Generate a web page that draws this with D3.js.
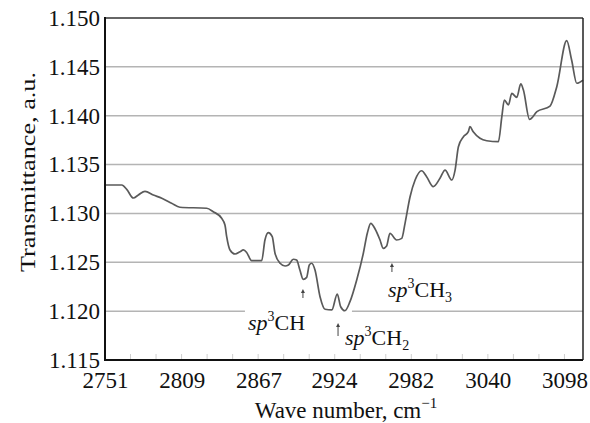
<!DOCTYPE html>
<html>
<head>
<meta charset="utf-8">
<script src="https://cdn.jsdelivr.net/npm/d3@7"></script>
<style>
  body { margin: 0; background: #fff; }
  text { font-family: "Liberation Serif", "Times New Roman", serif; fill: #111; }
</style>
</head>
<body>
<div id="chart"></div>
<script>
// spectrum
const WAVE_NUMBERS = [2751.0, 2763.7, 2767.4, 2772.4, 2776.2, 2781.2, 2787.5, 2793.9, 2801.3, 2807.6,
                      2827.8, 2832.7, 2839.1, 2841.6, 2842.9, 2845.4, 2849.2, 2853.0, 2855.5, 2858.1,
                      2861.7, 2869.3, 2871.8, 2874.3, 2877.3, 2879.4, 2883.2, 2887.0, 2889.5, 2893.2,
                      2895.7, 2898.2, 2900.7, 2903.3, 2905.3, 2907.1, 2909.6, 2913.4, 2917.2, 2922.3,
                      2926.4, 2929.0, 2932.2, 2936.0, 2941.1, 2946.1, 2949.1, 2951.7, 2955.0, 2958.7,
                      2961.1, 2963.7, 2966.2, 2971.2, 2975.1, 2977.6, 2981.4, 2985.2, 2990.1, 2993.9,
                      2998.9, 3004.0, 3007.8, 3012.9, 3015.4, 3017.9, 3021.7, 3025.4, 3026.6, 3029.1,
                      3034.2, 3039.3, 3048.1, 3050.7, 3052.6, 3055.7, 3058.2, 3062.0, 3065.0, 3067.0,
                      3071.6, 3077.2, 3087.1, 3092.2, 3099.7, 3103.4, 3107.3, 3112.0];
const TRANSMITTANCE = [1.13291, 1.13291, 1.13247, 1.13158, 1.13189, 1.13226, 1.13189, 1.13155, 1.13104, 1.13063,
                       1.13053, 1.13018, 1.12950, 1.12882, 1.12762, 1.12626, 1.12585, 1.12608, 1.12626, 1.12598,
                       1.12516, 1.12516, 1.12728, 1.12803, 1.12762, 1.12592, 1.12490, 1.12462, 1.12472, 1.12531,
                       1.12523, 1.12421, 1.12326, 1.12346, 1.12472, 1.12490, 1.12421, 1.12148, 1.12019, 1.12012,
                       1.12175, 1.12045, 1.12004, 1.12097, 1.12319, 1.12592, 1.12797, 1.12899, 1.12841, 1.12728,
                       1.12643, 1.12667, 1.12797, 1.12728, 1.12745, 1.12899, 1.13171, 1.13342, 1.13437, 1.13376,
                       1.13274, 1.13360, 1.13444, 1.13342, 1.13444, 1.13683, 1.13785, 1.13836, 1.13888, 1.13836,
                       1.13769, 1.13744, 1.13734, 1.13990, 1.14161, 1.14110, 1.14229, 1.14188, 1.14325, 1.14263,
                       1.13963, 1.14041, 1.14099, 1.14297, 1.14768, 1.14570, 1.14332, 1.14365];
const X_TICKS = [2751, 2809, 2867, 2924, 2982, 3040, 3098];
const Y_TICKS = [1.115, 1.120, 1.125, 1.130, 1.135, 1.140, 1.145, 1.150];
const PEAK_WAVES = [2900.5, 2927.0, 2967.7];
const PEAK_LABELS = [["sp", "3", "CH", ""], ["sp", "3", "CH", "2"], ["sp", "3", "CH", "3"]];

const LINE_COLOUR = "#5a5a5a";
const GRID_COLOUR = "#b4b4b4";

var width = 590, height = 423;
var margin = {top: 18, right: 7, bottom: 63, left: 105};
var w = width - margin.left - margin.right;
var h = height - margin.top - margin.bottom;

var svg = d3.select("#chart")
  .append("svg")
    .attr("width", width)
    .attr("height", height)
  .append("g")
    .attr("transform", "translate(" + margin.left + "," + margin.top + ")");

var x = d3.scaleLinear().domain([2751, 3112]).range([0, w]);
var y = d3.scaleLinear().domain([1.115, 1.150]).range([h, 0]);

// horizontal grid, the 1.120 line is broken around the labels
svg.append("g")
  .selectAll("line")
  .data(Y_TICKS.filter(function(d) { return d > 1.116 && d < 1.149 && Math.abs(d - 1.120) > 1e-6; }))
  .enter()
  .append("line")
    .attr("x1", 0).attr("x2", w)
    .attr("y1", function(d) { return y(d); })
    .attr("y2", function(d) { return y(d); })
    .style("stroke", GRID_COLOUR).style("stroke-width", 1.5);
[[2751, 2856.7], [2937.5, 3112]].forEach(function(seg) {
  svg.append("line")
    .attr("x1", x(seg[0])).attr("x2", x(seg[1]))
    .attr("y1", y(1.120)).attr("y2", y(1.120))
    .style("stroke", GRID_COLOUR).style("stroke-width", 1.5);
});

// faint minor ticks inside the bottom axis
svg.append("g")
  .selectAll("line")
  .data(d3.range(2751, 3112, 57.833 / 3))
  .enter()
  .append("line")
    .attr("x1", function(d) { return x(d); })
    .attr("x2", function(d) { return x(d); })
    .attr("y1", h).attr("y2", h - 6)
    .style("stroke", "#cfcfcf").style("stroke-width", 1);

// the spectrum
svg.append("path")
  .datum(d3.zip(WAVE_NUMBERS, TRANSMITTANCE))
  .attr("d", d3.line()
    .x(function(d) { return x(d[0]); })
    .y(function(d) { return y(d[1]); })
    .curve(d3.curveMonotoneX))
  .style("fill", "none")
  .style("stroke", LINE_COLOUR)
  .style("stroke-width", 1.7);

// frame
svg.append("line").attr("x1", 0).attr("x2", w).attr("y1", 0).attr("y2", 0)
  .style("stroke", "#333").style("stroke-width", 1.5);
svg.append("line").attr("x1", w).attr("x2", w).attr("y1", 0).attr("y2", h)
  .style("stroke", "#222").style("stroke-width", 1.5);
svg.append("line").attr("x1", 0).attr("x2", 0).attr("y1", -1).attr("y2", h + 1)
  .style("stroke", "#111").style("stroke-width", 2);
svg.append("line").attr("x1", 0).attr("x2", w).attr("y1", h).attr("y2", h)
  .style("stroke", "#111").style("stroke-width", 2);

// axes
var yAxis = svg.append("g")
  .call(d3.axisLeft(y).tickValues(Y_TICKS).tickFormat(d3.format(".3f")).tickSize(0).tickPadding(5));
yAxis.select(".domain").remove();
yAxis.selectAll("text").style("font-size", "23px").style("font-family", "Liberation Serif").attr("fill", "#111");

var xAxis = svg.append("g")
  .attr("transform", "translate(0," + h + ")")
  .call(d3.axisBottom(x).tickValues(X_TICKS).tickFormat(d3.format("d")).tickSize(0).tickPadding(12));
xAxis.select(".domain").remove();
xAxis.selectAll("text").style("font-size", "23px").style("font-family", "Liberation Serif").attr("fill", "#111");

// axis titles
svg.append("text")
  .attr("transform", "translate(" + (35 - margin.left) + "," + (172 - margin.top) + ") rotate(-90)")
  .attr("text-anchor", "middle")
  .attr("textLength", 200)
  .attr("lengthAdjust", "spacingAndGlyphs")
  .style("font-size", "22px")
  .text("Transmittance, a.u.");

var xl = svg.append("text")
  .attr("x", 346 - margin.left)
  .attr("y", 418 - margin.top)
  .attr("text-anchor", "middle")
  .style("font-size", "23px");
xl.append("tspan").text("Wave number, cm");
xl.append("tspan").attr("dy", -10).style("font-size", "15px").text("\u22121");

// peak markers
var labelOffsets = [{tx: -55, ty: 312, a0: 280, a1: 271},
                    {tx: 7, ty: 327, a0: 318, a1: 305},
                    {tx: -4, ty: 279, a0: 254, a1: 245}];
PEAK_WAVES.forEach(function(wv, i) {
  var o = labelOffsets[i];
  var ax = x(wv);
  svg.append("line")
    .attr("x1", ax).attr("x2", ax)
    .attr("y1", o.a0).attr("y2", o.a1 + 3)
    .style("stroke", "#444").style("stroke-width", 1);
  svg.append("path")
    .attr("d", "M" + (ax - 2) + "," + (o.a1 + 4) + "L" + ax + "," + o.a1 + "L" + (ax + 2) + "," + (o.a1 + 4) + "Z")
    .style("fill", "#444");
  var lab = PEAK_LABELS[i];
  var t = svg.append("text")
    .attr("x", ax + o.tx)
    .attr("y", o.ty)
    .style("font-size", "22px");
  t.append("tspan").style("font-style", "italic").text(lab[0]);
  t.append("tspan").attr("dy", -9).style("font-size", "14px").text(lab[1]);
  t.append("tspan").attr("dy", 9).text(lab[2]);
  if (lab[3] != "") {
    t.append("tspan").attr("dy", 5).style("font-size", "14px").text(lab[3]);
  }
});
</script>
</body>
</html>
